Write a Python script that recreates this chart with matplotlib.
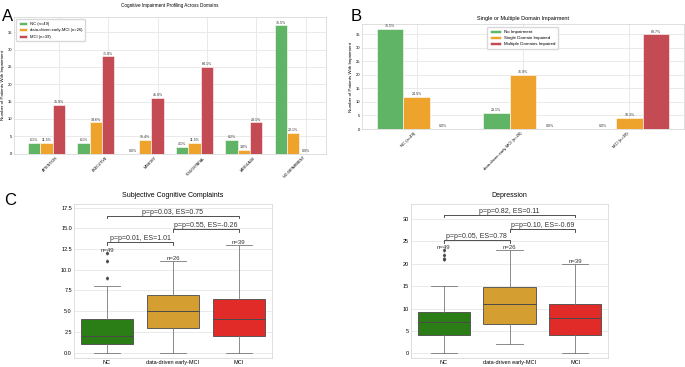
import numpy as np
import matplotlib
matplotlib.use("Agg")
import matplotlib.pyplot as plt

plt.rcParams['font.family'] = ['Liberation Sans', 'DejaVu Sans']

# ---------------- data ----------------
domains = ["ATTENTION", "EXECUTIVE", "MEMORY", "VISUOSPATIAL", "LANGUAGE", "NO IMPAIRMENT"]
group_labels = ["NC (n=49)", "data-driven early-MCI (n=26)", "MCI (n=39)"]
group_n = [49, 26, 39]
nc_counts = [3, 3, 0, 2, 4, 37]
emci_counts = [3, 9, 4, 3, 1, 6]
mci_counts = [14, 28, 16, 25, 9, 0]

b_groups = ["NC (n=49)", "data-driven early-MCI (n=26)", "MCI (n=39)"]
b_series = ["No Impairment", "Single Domain Impaired", "Multiple Domains Impaired"]
no_imp = [37, 6, 0]
single_imp = [12, 20, 4]
multi_imp = [0, 0, 35]

box_groups = ["NC", "data-driven early-MCI", "MCI"]
box_n = [49, 26, 39]
# summary stats: whislo, q1, med, q3, whishi, fliers
scc_stats = [
    (0, 1, 2, 4, 8, [9, 11, 12]),
    (0, 3, 5, 7, 11, []),
    (0, 2, 4, 6.5, 13, []),
]
dep_stats = [
    (0, 4, 7, 9.25, 15, [21, 21, 22, 23]),
    (2, 6.5, 11, 14.75, 23, []),
    (0, 4, 8, 11, 20, []),
]
scc_tests = [((0, 1), 13.3, "p=p=0.01, ES=1.01"),
             ((1, 2), 14.9, "p=p=0.55, ES=-0.26"),
             ((0, 2), 16.5, "p=p=0.03, ES=0.75")]
dep_tests = [((0, 1), 25.3, "p=p=0.05, ES=0.78"),
             ((1, 2), 27.8, "p=p=0.10, ES=-0.69"),
             ((0, 2), 31.0, "p=p=0.82, ES=0.11")]

bar_colors = ["#5fb565", "#eea42c", "#c44a53"]
box_colors = ["#2b7e16", "#d59e30", "#e02b28"]
grid_c = "#e6e6e6"
spine_c = "#d9d9d9"
line_gray = "#4a4a4a"

fig = plt.figure(figsize=(6.85, 3.67), dpi=100)


def style_axes(ax, xgrid=True):
    ax.set_facecolor("white")
    for s in ax.spines.values():
        s.set_color(spine_c)
        s.set_linewidth(0.6)
    ax.grid(True, axis="y", color=grid_c, linewidth=0.6)
    if xgrid:
        ax.grid(True, axis="x", color=grid_c, linewidth=0.6)
    ax.set_axisbelow(True)
    ax.tick_params(length=0, pad=1.5)


# ---------------- Panel A ----------------
axA = fig.add_axes([0.0204, 0.5817, 0.4555, 0.372])
style_axes(axA)
x = np.arange(len(domains))
w = 0.25
for i, (counts, n, lab) in enumerate(zip([nc_counts, emci_counts, mci_counts], group_n, group_labels)):
    pos = x + (i - 1) * w
    axA.bar(pos, counts, width=w, color=bar_colors[i], edgecolor="white", linewidth=0.4, label=lab)
    for xp, c in zip(pos, counts):
        axA.text(xp, c + 0.2, f"{100 * c / n:.1f}%", ha="center", va="bottom", fontsize=2.6, color="#333333")
axA.set_xticks(x + w)
axA.set_xticklabels(domains, rotation=45, ha="right", fontsize=2.6)
axA.set_yticks(np.arange(0, 36, 5))
axA.tick_params(axis="y", labelsize=3)
axA.set_ylim(0, 39.4)
axA.set_ylabel("Number of Patients With Impairment", fontsize=3.2, labelpad=2)
axA.set_title("Cognitive Impairment Profiling Across Domains", fontsize=3.3, pad=7)
axA.legend(loc="upper left", fontsize=3, frameon=True, edgecolor=spine_c, framealpha=1,
           handlelength=2, borderpad=0.6, labelspacing=0.6)

# ---------------- Panel B ----------------
axB = fig.add_axes([0.5285, 0.6485, 0.470, 0.286])
style_axes(axB)
xb = np.arange(len(b_groups))
for i, (vals, lab) in enumerate(zip([no_imp, single_imp, multi_imp], b_series)):
    pos = xb + (i - 1) * w
    axB.bar(pos, vals, width=w, color=bar_colors[i], edgecolor="white", linewidth=0.4, label=lab)
    for xp, v, n in zip(pos, vals, group_n):
        axB.text(xp, v + 0.3, f"{100 * v / n:.1f}%", ha="center", va="bottom", fontsize=2.6, color="#333333")
axB.set_xticks(xb)
axB.set_xticklabels(b_groups, rotation=45, ha="right", fontsize=3)
axB.set_yticks(np.arange(0, 36, 5))
axB.tick_params(axis="y", labelsize=3)
axB.set_ylim(0, 38.85)
axB.set_ylabel("Number of Patients With Impairment", fontsize=3.2, labelpad=2)
axB.set_title("Single or Multiple Domain Impairment", fontsize=4, pad=3)
axB.legend(loc="upper right", bbox_to_anchor=(0.615, 0.99), fontsize=3.2, frameon=True,
           edgecolor=spine_c, framealpha=1, handlelength=2.5, borderpad=0.5, labelspacing=0.5)


# ---------------- Panel C ----------------
def draw_box(ax, stats_list, tests, title, yticks, ylim, tick_h):
    style_axes(ax, xgrid=False)
    stats = []
    for (lo, q1, med, q3, hi, fl), lab in zip(stats_list, box_groups):
        stats.append(dict(whislo=lo, q1=q1, med=med, q3=q3, whishi=hi, fliers=fl, label=lab))
    bp = ax.bxp(stats, positions=range(3), widths=0.8, patch_artist=True, showfliers=True,
                boxprops=dict(edgecolor=line_gray, linewidth=0.6),
                whiskerprops=dict(color="#777777", linewidth=0.6),
                capprops=dict(color="#777777", linewidth=0.6),
                medianprops=dict(color=line_gray, linewidth=0.7),
                flierprops=dict(marker="d", markersize=1.5, markerfacecolor=line_gray,
                                markeredgecolor=line_gray), capwidths=0.4)
    for patch, c in zip(bp["boxes"], box_colors):
        patch.set_facecolor(c)
    for i, ((lo, q1, med, q3, hi, fl), n) in enumerate(zip(stats_list, box_n)):
        top = max([hi] + list(fl))
        ax.text(i, top, f"n={n}", ha="center", va="bottom", fontsize=4.3, color="#333333")
    for (a, b), y, txt in tests:
        ax.plot([a, a, b, b], [y - tick_h, y, y, y - tick_h], color="#333333", linewidth=0.6)
        ax.text((a + b) / 2, y, txt, ha="center", va="bottom", fontsize=5, color="#333333")
    ax.set_xlim(-0.5, 2.5)
    ax.set_ylim(*ylim)
    ax.set_yticks(yticks)
    ax.set_xticks(range(3))
    ax.set_xticklabels(box_groups, fontsize=4)
    ax.tick_params(axis="y", labelsize=4)
    ax.set_title(title, fontsize=5, pad=5)


axC1 = fig.add_axes([0.108, 0.0245, 0.289, 0.4188])
draw_box(axC1, scc_stats, scc_tests, "Subjective Cognitive Complaints",
         np.arange(0, 17.6, 2.5), (-0.65, 17.9), 0.3)
axC2 = fig.add_axes([0.600, 0.0245, 0.2876, 0.4188])
draw_box(axC2, dep_stats, dep_tests, "Depression",
         np.arange(0, 31, 5), (-1.05, 33.3), 0.6)

fig.text(0.003, 0.975, "A", fontsize=12, va="top", ha="left")
fig.text(0.512, 0.975, "B", fontsize=12, va="top", ha="left")
fig.text(0.006, 0.475, "C", fontsize=12, va="top", ha="left")

fig.savefig("out.png", dpi=100)
